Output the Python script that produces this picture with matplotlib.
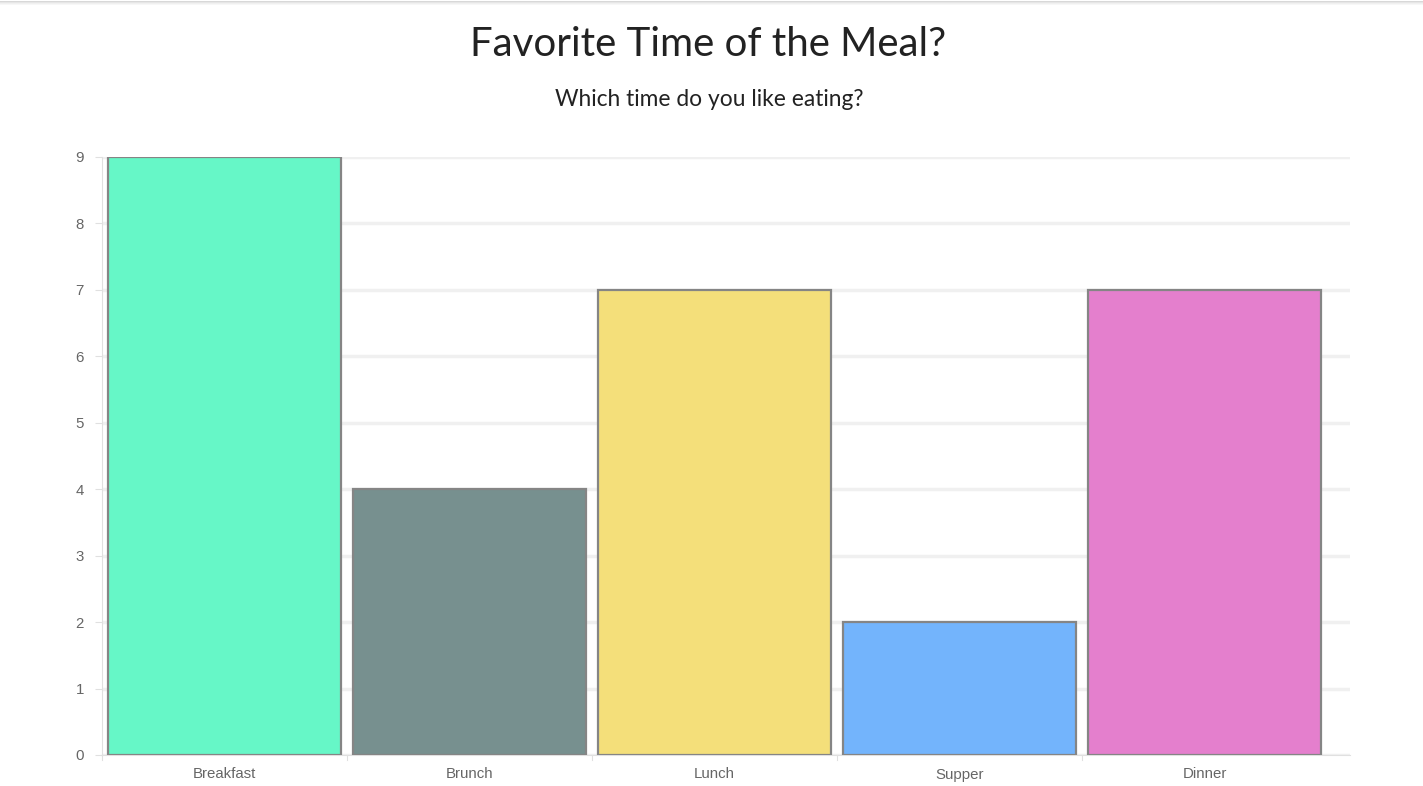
import numpy as np
import matplotlib
matplotlib.use('Agg')
import matplotlib.pyplot as plt
from matplotlib.lines import Line2D

# data
categories = ['Breakfast', 'Brunch', 'Lunch', 'Supper', 'Dinner']
votes = [9, 4, 7, 2, 7]
barColors = ['#66f7c7', '#77908f', '#f4df7a', '#73b4fc', '#e47fcd']

W, H = 1423, 786
fig = plt.figure(figsize=(W / 100, H / 100), dpi=100)
fig.patch.set_facecolor('white')

left, right, top, bottom = 102, 1350, 157, 755
ax = fig.add_axes([left / W, (H - bottom) / H, (right - left) / W, (bottom - top) / H])

x = np.arange(len(categories))
ax.bar(x, votes, width=0.947, color=barColors, edgecolor='#858585', linewidth=1.6, zorder=3)

# category slots are 245px, axis runs a bit past the last one
slot = 245.0
ax.set_xlim(-0.5, -0.5 + (right - left) / slot)
ax.set_ylim(0, 9)

ax.set_yticks(range(0, 10))
ax.yaxis.grid(True, color='#f0f0f0', linewidth=2.5, zorder=0)
ax.set_axisbelow(True)

ax.set_xticks(x)
ax.set_xticklabels(categories)
ax.tick_params(axis='x', length=0, pad=9, labelsize=10.8, labelcolor='#666666')
ax.tick_params(axis='y', length=5, width=0.8, color='#e0e0e0', pad=8,
               labelsize=10.8, labelcolor='#666666')
for lab in ax.get_xticklabels() + ax.get_yticklabels():
    lab.set_family('Liberation Sans')

# small ticks between categories on the x axis
for b in np.arange(-0.5, len(categories) - 1, 1.0):
    ax.plot([b, b], [0, -0.075], color='#e0e0e0', linewidth=0.8, clip_on=False, zorder=1)

for s in ['top', 'right']:
    ax.spines[s].set_visible(False)
ax.spines['left'].set_color('#e0e0e0')
ax.spines['bottom'].set_color('#e0e0e0')
ax.spines['left'].set_linewidth(0.8)
ax.spines['bottom'].set_linewidth(0.8)

# titles
fig.text(708 / W, 1 - 45 / H, 'Favorite Time of the Meal?', ha='center', va='center',
         fontsize=29, color='#222222', family='Lato')
fig.text(709 / W, 1 - 100 / H, 'Which time do you like eating?', ha='center', va='center',
         fontsize=16.4, color='#222222', family='Lato')

# faint page shadow at the top
for i, c in enumerate(['#d8d8d8', '#e6e6e6', '#f0f0f0', '#f7f7f7']):
    y = 1 - (i + 0.5) / H
    fig.add_artist(Line2D([0, 1], [y, y], transform=fig.transFigure, color=c, linewidth=0.72))

fig.savefig('out.png', dpi=100)
